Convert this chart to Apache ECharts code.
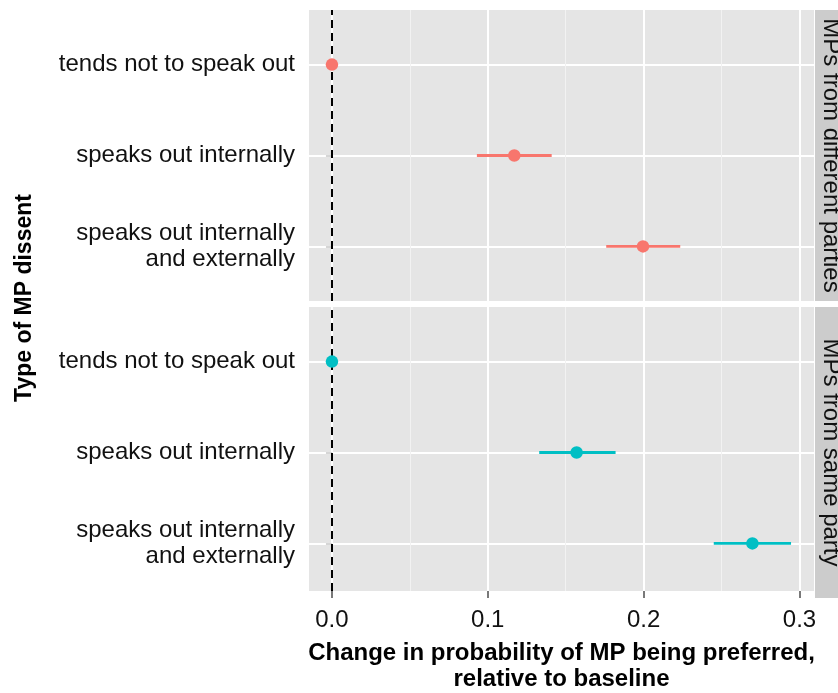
<!DOCTYPE html>
<html>
<head>
<meta charset="utf-8">
<script src="https://cdn.jsdelivr.net/npm/echarts@6/dist/echarts.min.js"></script>
<style>
html,body{margin:0;padding:0;background:#fff;}
#chart{width:838px;height:693px;}
</style>
</head>
<body>
<div id="chart"></div>
<script>
// ---- data ----
const categories = ['tends not to speak out', 'speaks out internally', 'speaks out internally\nand externally'];
const panelLabels = ['MPs from different parties', 'MPs from same party'];
const diffEst = [0, 0.117, 0.1996];
const diffLo  = [0, 0.093, 0.176];
const diffHi  = [0, 0.141, 0.2235];
const sameEst = [0, 0.157, 0.2698];
const sameLo  = [0, 0.133, 0.245];
const sameHi  = [0, 0.182, 0.2946];
const majorTicks = [0, 0.1, 0.2, 0.3];
const minorTicks = [0.05, 0.15, 0.25];
const xTitle = 'Change in probability of MP being preferred,\nrelative to baseline';
const yTitle = 'Type of MP dissent';

// ---- layout ----
const FONT = 'Liberation Sans, Arial, Helvetica, sans-serif';
const PL = 309, PW = 505;          // panel left / width
const PH = 291;                     // panel height
const PT = [10, 307];               // panel tops
const ROW = PH / 3.2;               // ggplot discrete expansion 0.6
const STRIP_X = 815, STRIP_W = 30;
const colors = ['#F8766D', '#00BFC4'];

const allVals = diffLo.concat(diffHi, sameLo, sameHi, diffEst, sameEst);
const dmin = Math.min.apply(null, allVals), dmax = Math.max.apply(null, allVals);
const xmin = dmin - 0.05 * (dmax - dmin), xmax = dmax + 0.05 * (dmax - dmin);

const grids = [], xAxes = [], yAxes = [], series = [];
const panels = [
  {est: diffEst, lo: diffLo, hi: diffHi},
  {est: sameEst, lo: sameLo, hi: sameHi}
];

panels.forEach((p, i) => {
  const bg = grids.length;
  grids.push({left: PL, width: PW, top: PT[i], height: PH, show: true,
              backgroundColor: '#E5E5E5', borderWidth: 0, containLabel: false});
  const dg = grids.length;
  grids.push({left: PL, width: PW, top: PT[i] + 0.6 * ROW, height: 2 * ROW, containLabel: false});
  const isBottom = i === panels.length - 1;
  const xMaj = xAxes.length;
  xAxes.push({
    type: 'value', gridIndex: bg, min: xmin, max: xmax, position: 'bottom',
    axisLine: {show: false},
    axisTick: {show: isBottom, customValues: majorTicks, length: 7, lineStyle: {color: '#4d4d4d', width: 1.5}},
    axisLabel: {show: isBottom, customValues: majorTicks, margin: 17, color: '#111',
                fontSize: 24, fontFamily: FONT, formatter: v => v.toFixed(1)},
    splitLine: {show: true, lineStyle: {color: '#ffffff', width: 2}},
    name: isBottom ? xTitle : '', nameLocation: 'middle', nameGap: 49,
    nameTextStyle: {fontSize: 24, fontWeight: 'bold', fontFamily: FONT, color: '#000', lineHeight: 26}
  });
  xAxes.push({
    type: 'value', gridIndex: bg, min: xmin, max: xmax, position: 'top',
    axisLine: {show: false},
    axisTick: {show: false, customValues: minorTicks},
    axisLabel: {show: false, customValues: minorTicks},
    splitLine: {show: true, lineStyle: {color: '#F2F2F2', width: 1}}
  });
  const xDat = xAxes.length;
  xAxes.push({type: 'value', gridIndex: dg, min: xmin, max: xmax, show: false, splitLine: {show: false}});
  const yBg = yAxes.length;
  yAxes.push({type: 'value', gridIndex: bg, min: 0, max: 1, show: false, splitLine: {show: false}});
  const yDat = yAxes.length;
  yAxes.push({
    type: 'category', gridIndex: dg, data: categories, inverse: true, boundaryGap: false,
    axisLine: {show: false},
    axisTick: {show: true, length: 6, lineStyle: {color: '#c8c8c8', width: 1.5}},
    axisLabel: {margin: 14, color: '#111', fontSize: 24, fontFamily: FONT, lineHeight: 26, align: 'right'},
    splitLine: {show: true, lineStyle: {color: '#ffffff', width: 2}}
  });
  series.push({
    type: 'scatter', xAxisIndex: xMaj, yAxisIndex: yBg, data: [], silent: true, z: 3,
    markLine: {silent: true, symbol: 'none', label: {show: false}, animation: false,
               lineStyle: {type: [8, 5], color: '#000', width: 2}, data: [{xAxis: 0}]}
  });
  series.push({
    type: 'custom', xAxisIndex: xDat, yAxisIndex: yDat, z: 4, silent: true,
    data: categories.map((c, k) => [k, p.lo[k], p.hi[k]]),
    encode: {x: [1, 2], y: 0},
    renderItem: (params, api) => {
      const a = api.coord([api.value(1), api.value(0)]);
      const b = api.coord([api.value(2), api.value(0)]);
      return {type: 'line', shape: {x1: a[0], y1: a[1], x2: b[0], y2: b[1]},
              style: {stroke: colors[i], lineWidth: 2.8}};
    }
  });
  series.push({
    type: 'scatter', xAxisIndex: xDat, yAxisIndex: yDat, z: 5, silent: true,
    symbolSize: 12.5, itemStyle: {color: colors[i], opacity: 1},
    data: categories.map((c, k) => [p.est[k], k])
  });
});

const graphics = [];
panels.forEach((p, i) => {
  graphics.push({type: 'rect', shape: {x: STRIP_X, y: PT[i], width: STRIP_W, height: PH},
                 style: {fill: '#CCCCCC'}, silent: true});
  graphics.push({type: 'text', x: STRIP_X + 16, y: PT[i] + PH / 2, rotation: -Math.PI / 2,
                 style: {text: panelLabels[i], fill: '#111', font: '24px ' + FONT,
                         textAlign: 'center', textVerticalAlign: 'middle'}, silent: true});
});
graphics.push({type: 'text', x: 25, y: 298, rotation: Math.PI / 2,
               style: {text: yTitle, fill: '#000', font: 'bold 23px ' + FONT,
                       textAlign: 'center', textVerticalAlign: 'middle'}, silent: true});

const chart = echarts.init(document.getElementById('chart'), null, {renderer: 'canvas'});
chart.setOption({
  animation: false,
  backgroundColor: '#ffffff',
  grid: grids, xAxis: xAxes, yAxis: yAxes, series: series,
  graphic: graphics
});
</script>
</body>
</html>
